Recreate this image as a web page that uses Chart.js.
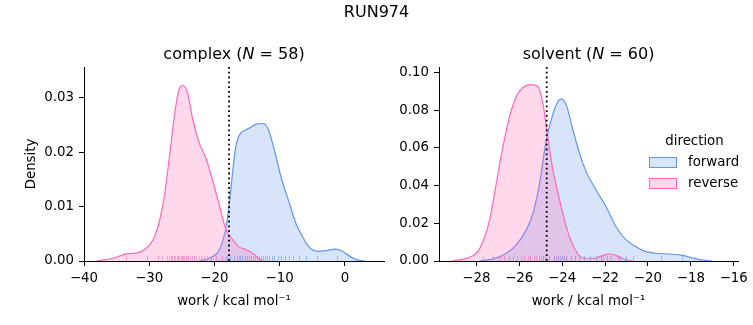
<!DOCTYPE html>
<html>
<head>
<meta charset="utf-8">
<script src="https://cdn.jsdelivr.net/npm/chart.js@4.4.1/dist/chart.umd.min.js"></script>
<style>
  body { margin: 0; background: #fff; }
  #wrap { position: relative; width: 753px; height: 325px; }
  #wrap canvas { position: absolute; left: 0; top: 0; }
</style>
</head>
<body>
<div id="wrap">
  <canvas id="complexChart" width="753" height="325"></canvas>
  <canvas id="solventChart" width="753" height="325"></canvas>
</div>
<script>
// --- complex leg: KDE curves (work, density) ---
const complexFwdX = [-22.3, -20.8, -19.8, -19.2, -18.7, -18.2, -17.7, -17.2, -16.8, -16.4, -15.9, -15.2, -14.6, -13.6, -12.6, -11.8, -10.8, -9.8, -8.5, -7.5, -6.5, -5.5, -4.2, -2.9, -1.4, -0.4, 0.7, 1.9, 3.2];
const complexFwdY = [0, 0.0005, 0.0012, 0.0022, 0.0038, 0.0063, 0.0108, 0.0165, 0.0205, 0.0226, 0.0236, 0.0241, 0.0245, 0.0252, 0.0253, 0.0244, 0.0204, 0.0155, 0.0106, 0.0069, 0.0045, 0.0026, 0.0018, 0.0019, 0.0022, 0.0018, 0.0009, 0.0002, 0];
const complexRevX = [-38.1, -35.6, -33.5, -31.5, -30.5, -29.4, -28.4, -27.7, -26.9, -26.1, -25.4, -24.8, -24.1, -23.3, -22.3, -21.3, -20.3, -19.2, -18.2, -17.2, -16.2, -15.2, -14.1, -13.1, -12.6];
const complexRevY = [0, 0.0005, 0.0013, 0.0016, 0.0023, 0.0039, 0.0075, 0.0118, 0.0192, 0.0271, 0.0317, 0.0323, 0.0308, 0.0259, 0.0216, 0.0189, 0.0149, 0.0100, 0.0057, 0.0039, 0.0026, 0.0021, 0.0014, 0.0004, 0];

// rug marks (individual work values)
const complexFwdRug = [-18.2, -17.6, -17.0, -16.5, -16.1, -15.7, -15.3, -15.0, -14.7, -14.4, -14.1, -13.8, -13.5, -13.2, -12.9, -12.6, -12.3, -12.0, -11.6, -11.2, -10.8, -10.3, -9.8, -9.2, -8.6, -7.9, -7.1, -6.0, -4.3, -1.2];
const complexRevRug = [-33.6, -30.4, -28.6, -28.1, -27.3, -27.0, -26.7, -26.5, -26.2, -26.0, -25.8, -25.6, -25.4, -25.2, -25.0, -24.8, -24.6, -24.4, -24.2, -24.0, -23.8, -23.5, -23.2, -22.8, -22.4, -22.0, -21.6, -21.2, -20.6, -19.8, -18.9, -18.1, -16.2];

// --- solvent leg ---
const solventFwdX = [-27.84, -27.22, -26.6, -26.14, -25.67, -25.36, -25.05, -24.74, -24.51, -24.28, -24.05, -23.81, -23.5, -23.19, -22.88, -22.42, -21.95, -21.49, -21.02, -20.56, -20.09, -19.63, -19.01, -18.39, -17.92, -17.46, -17.0];
const solventFwdY = [0, 0.0011, 0.0041, 0.0085, 0.0165, 0.0253, 0.0412, 0.0642, 0.0749, 0.0828, 0.086, 0.0828, 0.0696, 0.0572, 0.0474, 0.0377, 0.0288, 0.0182, 0.0112, 0.0076, 0.005, 0.0041, 0.0037, 0.003, 0.0016, 0.0005, 0];
const solventRevX = [-29.16, -28.47, -28.0, -27.69, -27.38, -27.07, -26.76, -26.45, -26.14, -25.83, -25.44, -25.13, -24.9, -24.67, -24.43, -24.12, -23.81, -23.5, -23.19, -22.73, -22.42, -22.1, -21.8, -21.49, -21.18, -20.87, -20.7];
const solventRevY = [0, 0.0014, 0.0041, 0.0103, 0.0218, 0.0412, 0.0607, 0.0766, 0.0873, 0.092, 0.0935, 0.0926, 0.0837, 0.066, 0.0483, 0.0324, 0.0182, 0.0085, 0.0027, 0.0012, 0.0016, 0.003, 0.0037, 0.003, 0.0012, 0.0002, 0];

const solventFwdRug = [-25.5, -25.1, -24.9, -24.6, -24.4, -24.3, -24.2, -24.1, -24.0, -23.9, -23.8, -23.6, -23.4, -23.2, -23.0, -22.7, -22.4, -22.2, -21.9, -21.3, -21.0, -20.7, -19.4, -18.4];
const solventRevRug = [-27.7, -27.2, -26.9, -26.7, -26.5, -26.3, -26.1, -25.9, -25.8, -25.6, -25.5, -25.3, -25.2, -25.0, -24.9, -24.8, -24.6, -24.4, -24.2, -24.0, -23.8, -23.6, -23.4, -22.1, -21.7, -21.4];

// dotted reference lines
const complexMark = -17.76;
const solventMark = -24.72;

// tick labels
const complexXTicks = [-40, -30, -20, -10, 0];
const complexYTicks = [0, 0.01, 0.02, 0.03];
const solventXTicks = [-28, -26, -24, -22, -20, -18, -16];
const solventYTicks = [0, 0.02, 0.04, 0.06, 0.08, 0.10];

const FONT = '"DejaVu Sans", sans-serif';
const SMALL = 13.33;
const BIG = 16;
const BLUE = '#6495ed';
const BLUE_FILL = 'rgba(100,149,237,0.26)';
const PINK = '#ff69b4';
const PINK_FILL = 'rgba(255,105,180,0.26)';

function toPoints(xs, ys) {
    return xs.map((x, i) => ({ x: x, y: ys[i] }));
}

function minusSign(v) {
    return v < 0 ? '\u2212' + Math.abs(v) : String(v);
}

// draws text made of plain / italic pieces, centred on cx
function drawMixed(ctx, parts, cx, cy, size) {
    const fontFor = p => (p.italic ? 'oblique ' : '') + size + 'px ' + FONT;
    let total = 0;
    parts.forEach(p => { ctx.font = fontFor(p); total += ctx.measureText(p.text).width; });
    let x = cx - total / 2;
    ctx.textAlign = 'left';
    ctx.textBaseline = 'middle';
    parts.forEach(p => {
        ctx.font = fontFor(p);
        ctx.fillText(p.text, x, cy);
        x += ctx.measureText(p.text).width;
    });
}

const extras = {
    id: 'extras',
    afterDatasetsDraw(chart, args, opts) {
        const ctx = chart.ctx;
        const area = chart.chartArea;
        const xs = chart.scales.x;
        ctx.save();
        opts.rugs.forEach(r => {
            ctx.strokeStyle = r.color;
            ctx.lineWidth = 1;
            r.values.forEach(v => {
                const px = Math.round(xs.getPixelForValue(v)) + 0.5;
                ctx.beginPath();
                ctx.moveTo(px, area.bottom);
                ctx.lineTo(px, area.bottom - 5);
                ctx.stroke();
            });
        });
        const vx = xs.getPixelForValue(opts.mark);
        ctx.strokeStyle = '#000';
        ctx.lineWidth = 1.8;
        ctx.setLineDash([1.8, 3]);
        ctx.beginPath();
        ctx.moveTo(vx, area.top);
        ctx.lineTo(vx, area.bottom);
        ctx.stroke();
        ctx.restore();
    },
    afterDraw(chart, args, opts) {
        const ctx = chart.ctx;
        const area = chart.chartArea;
        ctx.save();
        ctx.fillStyle = '#000';
        drawMixed(ctx, opts.title, (area.left + area.right) / 2, 55, BIG);
        if (opts.suptitle) {
            ctx.font = BIG + 'px ' + FONT;
            ctx.textAlign = 'center';
            ctx.textBaseline = 'middle';
            ctx.fillText(opts.suptitle, 376.5, 13);
        }
        if (opts.legend) {
            ctx.font = SMALL + 'px ' + FONT;
            ctx.textAlign = 'center';
            ctx.textBaseline = 'middle';
            ctx.fillText('direction', 694.5, 142);
            chart.data.datasets.slice().reverse().forEach((ds, i) => {
                const y = 157.5 + i * 21;
                ctx.fillStyle = ds.backgroundColor;
                ctx.fillRect(649.5, y, 27, 10);
                ctx.strokeStyle = ds.borderColor;
                ctx.lineWidth = 1;
                ctx.strokeRect(649.5, y, 27, 10);
                ctx.fillStyle = '#000';
                ctx.textAlign = 'left';
                ctx.fillText(ds.label, 688, y + 5);
            });
        }
        ctx.restore();
    }
};

function axisCommon(ticksArr, fmt, fit) {
    return {
        type: 'linear',
        afterBuildTicks: s => { s.ticks = ticksArr.map(v => ({ value: v })); },
        afterFit: fit,
        ticks: { callback: fmt, color: '#000', font: { family: FONT, size: SMALL }, padding: 5, maxRotation: 0, autoSkip: false },
        grid: { drawOnChartArea: false, drawTicks: true, tickLength: 5, color: '#000', lineWidth: 1 },
        border: { display: true, color: '#000', width: 1 }
    };
}

function makeChart(id, cfg) {
    const x = axisCommon(cfg.xTicks, v => minusSign(v), s => { s.height = 52; });
    x.min = cfg.xMin;
    x.max = cfg.xMax;
    x.title = { display: true, text: 'work / kcal mol\u207B\u00B9', color: '#000', font: { family: FONT, size: SMALL }, padding: { top: 2, bottom: 3 } };
    const y = axisCommon(cfg.yTicks, v => v.toFixed(2), s => { s.width = 60; });
    y.min = 0;
    y.max = cfg.yMax;
    if (cfg.yTitle) {
        y.title = { display: true, text: cfg.yTitle, color: '#000', font: { family: FONT, size: SMALL }, padding: { top: 0, bottom: 2 } };
    }
    const line = (label, xs, ys, stroke, fill) => ({
        label: label,
        data: toPoints(xs, ys),
        borderColor: stroke,
        backgroundColor: fill,
        borderWidth: 1.2,
        fill: 'origin',
        pointRadius: 0,
        cubicInterpolationMode: 'monotone'
    });
    return new Chart(document.getElementById(id), {
        type: 'line',
        data: {
            datasets: [
                line('reverse', cfg.revX, cfg.revY, PINK, PINK_FILL),
                line('forward', cfg.fwdX, cfg.fwdY, BLUE, BLUE_FILL)
            ]
        },
        options: {
            responsive: false,
            animation: false,
            layout: { padding: cfg.padding },
            scales: { x: x, y: y },
            plugins: {
                legend: { display: false },
                title: { display: false },
                tooltip: { enabled: false },
                extras: {
                    title: cfg.title,
                    suptitle: cfg.suptitle,
                    legend: cfg.legend,
                    mark: cfg.mark,
                    rugs: [
                        { values: cfg.fwdRug, color: 'rgba(100,149,237,0.55)' },
                        { values: cfg.revRug, color: 'rgba(255,105,180,0.55)' }
                    ]
                }
            }
        },
        plugins: [extras]
    });
}

makeChart('complexChart', {
    fwdX: complexFwdX, fwdY: complexFwdY, revX: complexRevX, revY: complexRevY,
    fwdRug: complexFwdRug, revRug: complexRevRug, mark: complexMark,
    xMin: -40, xMax: 6, xTicks: complexXTicks,
    yMax: 0.0357, yTicks: complexYTicks, yTitle: 'Density',
    title: [{ text: 'complex (' }, { text: 'N', italic: true }, { text: ' = 58)' }],
    suptitle: 'RUN974',
    padding: { left: 24, right: 369, top: 67, bottom: 12 }
});

makeChart('solventChart', {
    fwdX: solventFwdX, fwdY: solventFwdY, revX: solventRevX, revY: solventRevY,
    fwdRug: solventFwdRug, revRug: solventRevRug, mark: solventMark,
    xMin: -29.74, xMax: -15.8, xTicks: solventXTicks,
    yMax: 0.1029, yTicks: solventYTicks,
    title: [{ text: 'solvent (' }, { text: 'N', italic: true }, { text: ' = 60)' }],
    legend: true,
    padding: { left: 379, right: 14, top: 67, bottom: 12 }
});
</script>
</body>
</html>
